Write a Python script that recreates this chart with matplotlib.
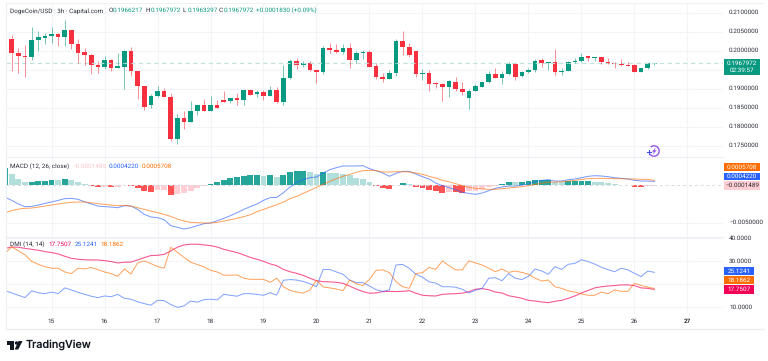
import numpy as np
import matplotlib
matplotlib.use('Agg')
import matplotlib.pyplot as plt
from matplotlib.patches import Rectangle, Circle, Polygon, Arc

plt.rcParams['font.family'] = ['Roboto', 'DejaVu Sans']
plt.rcParams['text.hinting'] = 'no_hinting'

W, H = 768, 361

# candles, price in units of 0.0001
open_p = [2085,2031,1995,1987,1984,2029,2032,2039,2045,2036,
          2054,2018,1996,1988,1961,1958,1975,1955,1958,1999,
          1947,1908,1856,1881,1893,1878,1768,1823,1811,1842,
          1857,1842,1857,1870,1867,1875,1871,1897,1885,1891,
          1881,1897,1866,1928,1973,1963,1968,1950,1945,2008,
          2002,1996,2008,1975,1995,1996,1960,1932,1926,1940,
          2025,2010,1998,1939,1940,1915,1912,1905,1918,1899,
          1876,1895,1905,1917,1939,1929,1939,1966,1934,1945,
          1950,1975,1968,1969,1944,1947,1970,1973,1985,1982,
          1983,1971,1967,1965,1962,1961,1944,1954,1966]
high_p = [2085,2041,2008,2015,2061,2052,2047,2061,2047,2081,
          2054,2030,2006,1991,1973,1986,1977,1995,2001,2009,
          1947,1908,1886,1907,1902,1888,1833,1840,1868,1857,
          1874,1882,1870,1895,1875,1888,1897,1898,1897,1897,
          1907,1904,1962,1977,1981,1972,1972,1952,2011,2020,
          2018,2018,2019,2000,2002,2002,1968,1940,1950,2030,
          2052,2020,1999,1951,1949,1918,1914,1923,1930,1918,
          1900,1912,1918,1946,1955,1946,1970,1968,1946,1954,
          1979,1981,1970,2004,1955,1973,1981,1994,1987,1983,
          1983,1981,1970,1977,1970,1965,1954,1968,1968]
low_p = [2030,1947,1942,1932,1975,2000,2018,2021,2012,2012,
         2004,1967,1961,1939,1942,1951,1947,1955,1900,1934,
         1872,1844,1850,1877,1877,1761,1754,1793,1811,1831,
         1842,1841,1848,1866,1863,1856,1856,1884,1877,1870,
         1881,1861,1858,1925,1953,1958,1947,1914,1939,1995,
         1993,1991,1955,1968,1979,1958,1925,1918,1925,1934,
         1988,1983,1931,1923,1894,1903,1868,1879,1893,1883,
         1847,1893,1904,1915,1929,1912,1937,1922,1932,1941,
         1944,1957,1949,1936,1937,1946,1968,1971,1974,1973,
         1964,1965,1955,1960,1959,1944,1944,1952,1963]
close_p = [2030,1995,1987,1984,2029,2035,2039,2045,2036,2054,
           2018,1995,1988,1962,1958,1975,1955,1959,1999,1947,
           1908,1851,1881,1893,1877,1768,1823,1811,1842,1857,
           1842,1857,1848,1866,1875,1871,1897,1884,1892,1882,
           1897,1866,1928,1973,1963,1968,1950,1945,2008,2001,
           1996,2008,1975,1994,1996,1958,1932,1926,1941,2026,
           2009,1989,1938,1940,1913,1911,1905,1920,1899,1892,
           1894,1907,1918,1939,1929,1939,1966,1930,1945,1949,
           1973,1968,1970,1944,1947,1971,1973,1984,1981,1983,
           1971,1965,1964,1961,1960,1944,1954,1967,1968]
last_price = 0.1967972

# MACD pane, units of 0.0001
macd_hist = [22.4,13.6,7.5,3.1,3.5,4.8,5.3,6.1,5.7,7.5,
             6.1,3.1,0.9,-1.8,-3.5,-2.6,-3.6,-3.1,-0.9,-1.3,
             -3.9,-8.3,-9.2,-7.5,-7.0,-13.6,-11.8,-11.0,-8.3,-4.8,
             -1.8,0.9,3.5,5.7,8.3,9.6,11.8,12.3,12.7,11.8,
             12.3,10.1,12.7,16.2,17.5,18.0,16.2,14.0,16.2,15.4,
             14.9,14.5,12.7,9.2,7.5,3.5,-1.3,-3.9,-5.3,-0.4,
             1.8,1.3,-2.6,-4.4,-7.5,-8.3,-10.5,-9.2,-9.6,-10.5,
             -8.3,-7.9,-5.7,-3.5,-1.8,1.3,3.9,3.1,3.9,4.4,
             5.7,5.9,6.1,3.9,3.1,4.4,4.5,4.8,5.0,3.9,
             3.1,2.2,1.3,-0.4,-0.9,-2.6,-2.7,-1.8,-1.489]
macd_line = [-16.7,-20.6,-25.4,-28.9,-28.5,-26.8,-24.6,-22.8,-20.6,-18.4,
             -18.0,-19.3,-22.4,-25.4,-28.1,-28.9,-29.4,-30.3,-27.6,-28.1,
             -32.5,-39.0,-42.5,-43.4,-46.1,-53.9,-56.1,-58.3,-56.6,-53.9,
             -51.3,-50.4,-47.4,-44.3,-40.8,-36.8,-32.5,-28.9,-25.4,-20.6,
             -17.1,-16.7,-10.5,-3.1,3.1,6.6,9.2,10.1,15.4,19.7,
             22.4,24.6,24.6,24.6,25.0,21.1,18.4,15.4,11.0,14.9,
             17.5,17.5,14.0,10.5,7.5,2.2,-1.3,-3.9,-6.6,-10.1,
             -11.4,-12.7,-11.0,-7.9,-4.8,-3.1,-1.8,-1.8,-0.4,1.3,
             3.9,5.7,6.6,4.8,4.8,6.6,7.5,9.2,11.0,11.8,
             11.4,10.5,9.2,8.3,7.5,5.7,4.8,4.8,4.22]
signal_line = [-36.8,-34.2,-32.0,-31.1,-30.7,-29.4,-28.1,-26.8,-25.4,-24.1,
               -23.2,-22.8,-22.8,-23.7,-25.0,-25.9,-26.8,-27.6,-27.2,-28.1,
               -30.3,-32.5,-34.6,-36.8,-39.0,-41.7,-45.2,-47.8,-49.6,-50.0,
               -50.4,-50.4,-49.6,-47.8,-46.1,-44.3,-42.1,-39.5,-35.5,-32.5,
               -29.4,-26.3,-22.8,-18.4,-15.4,-11.4,-7.5,-3.5,0.4,4.4,
               7.9,11.0,13.6,16.2,18.4,18.9,18.4,16.7,16.7,17.1,
               17.1,16.7,15.4,13.6,11.0,8.8,5.7,3.9,1.3,-1.3,
               -3.5,-4.8,-5.7,-6.1,-6.1,-5.3,-4.4,-3.5,-2.6,-1.3,
               0.4,1.8,3.1,3.5,3.9,4.8,5.7,7.0,7.9,8.3,
               8.3,8.3,7.9,7.9,7.5,7.5,7.0,7.0,5.708]

# DMI pane
adx = [35.5,36.1,36.0,35.5,35.1,34.7,34.1,33.7,33.1,32.1,
       31.2,30.8,30.6,30.5,30.5,30.2,29.8,29.2,29.5,29.6,
       30.5,31.5,32.4,32.5,32.9,34.4,36.0,37.0,37.3,37.3,
       37.0,36.7,36.1,35.1,34.4,33.7,32.7,31.6,30.8,29.9,
       28.8,28.0,26.4,25.4,24.7,23.8,22.6,21.5,21.1,21.0,
       20.8,20.4,19.2,17.9,16.8,16.1,16.2,16.8,16.9,16.8,
       16.9,17.2,16.1,15.2,15.0,14.9,15.6,15.8,15.9,16.1,
       16.8,17.8,18.1,17.6,16.6,16.2,15.0,14.5,13.9,13.0,
       12.7,12.3,12.0,12.6,13.0,13.9,14.9,16.2,17.3,18.4,
       18.9,19.2,19.4,19.7,19.7,19.4,18.4,18.2,17.7507]
plus_di = [17.2,16.2,15.2,14.2,17.1,16.3,15.9,16.6,15.9,18.4,
           17.5,16.5,15.6,14.8,14.2,14.9,14.6,15.6,13.9,13.5,
           12.4,11.6,10.9,13.0,12.9,11.2,10.0,10.6,12.7,12.2,
           13.3,13.5,13.2,15.6,15.2,14.8,15.9,15.9,15.6,15.2,
           16.3,15.3,21.7,22.0,21.8,21.2,20.2,18.9,26.4,26.4,
           25.3,24.3,21.8,20.7,20.7,19.2,17.6,16.9,17.5,28.3,
           28.6,26.9,24.3,23.0,21.0,20.5,18.9,18.9,18.7,17.8,
           16.2,17.4,18.2,22.6,22.8,21.5,24.6,22.6,22.0,23.4,
           26.6,25.7,24.3,27.6,26.4,28.6,29.0,30.6,29.8,28.7,
           27.3,26.3,25.4,26.9,26.2,24.7,23.3,25.7,25.1241]
minus_di = [33.4,36.1,34.5,32.7,29.9,28.6,27.6,26.9,26.9,25.3,
            24.6,26.9,26.6,27.2,26.3,25.3,24.6,23.4,26.6,24.4,
            29.2,30.1,28.9,27.7,26.9,36.0,33.8,31.6,29.5,28.5,
            27.5,26.0,25.3,23.9,23.9,24.0,22.6,22.1,22.1,22.1,
            20.8,22.6,18.9,17.3,16.6,16.1,17.5,21.7,18.8,18.4,
            17.9,17.2,21.8,20.2,19.4,22.1,26.0,26.2,25.0,21.1,
            18.9,18.2,24.6,25.0,27.3,26.4,30.1,28.0,26.2,26.2,
            30.1,29.2,28.3,26.9,25.4,26.6,25.1,25.7,25.1,24.3,
            22.6,21.4,21.8,18.9,18.2,17.1,16.6,15.8,15.2,15.2,
            16.6,15.9,17.5,16.9,16.9,20.4,19.5,18.7,18.1862]

day_ticks = list(range(15, 28))
price_ticks = [0.175, 0.18, 0.185, 0.19, 0.195, 0.2, 0.205, 0.21]
dmi_ticks = [10, 20, 30, 40]

GREEN = '#089981'
RED = '#f7303f'
BLUE = '#2962ff'
ORANGE = '#ff6d00'
PINK = '#f50057'
GRID = '#f3f4f8'
TEXT = '#2a2e39'
FS = 4.55

# candle index 7 is the start of the 15th, 8 candles a day
days = 15 + (np.arange(len(close_p)) - 7) / 8


fig = plt.figure(figsize=(W / 100, H / 100), dpi=100)


def pane(top, bottom, ylim):
    ax = fig.add_axes([5.5 / W, 1 - bottom / H, (723 - 5.5) / W, (bottom - top) / H])
    ax.set_xlim(14.132, 27.67)
    ax.set_ylim(*ylim)
    ax.set_xticks(day_ticks)
    ax.set_xticklabels([])
    ax.tick_params(length=0)
    ax.set_yticklabels([])
    ax.grid(True, color=GRID, lw=0.8)
    ax.set_axisbelow(True)
    for s in ax.spines.values():
        s.set_visible(False)
    ax.patch.set_alpha(0)
    return ax


# price pane
ax1 = pane(3, 157, (0.17202, 0.21254))
ax1.set_yticks(price_ticks)
ax1.set_yticklabels([])
o = np.array(open_p) / 1e4
h = np.array(high_p) / 1e4
l = np.array(low_p) / 1e4
c = np.array(close_p) / 1e4
colors = [GREEN if c[i] >= o[i] else RED for i in range(len(c))]
ax1.axhline(last_price, color='#bfe3da', lw=0.8, ls=(0, (4, 3)))
ax1.vlines(days, l, h, colors=colors, lw=0.7, alpha=0.55)
ax1.bar(days, np.maximum(np.abs(c - o), 0.00008), bottom=np.minimum(o, c), width=0.088, color=colors, lw=0)

# macd pane
ax2 = pane(157, 236.7, (-0.00684, 0.00364))
ax2.set_yticks([-0.005])
hist = np.array(macd_hist) * 1e-4
bar_colors = []
for i, v in enumerate(hist):
    rising = i == 0 or v >= hist[i - 1]
    if v >= 0:
        bar_colors.append('#26a69a' if rising else '#b2dfdb')
    else:
        bar_colors.append('#ffcdd2' if rising else '#ff5252')
ax2.axhline(0, color='#d8dae0', lw=0.7, ls=(0, (3, 3)))
ax2.bar(days, hist, width=0.112, color=bar_colors, lw=0)
ax2.plot(days, np.array(macd_line) * 1e-4, color=BLUE, lw=0.7, alpha=0.65)
ax2.plot(days, np.array(signal_line) * 1e-4, color=ORANGE, lw=0.7, alpha=0.65)

# dmi pane
ax3 = pane(237, 313, (7.53, 40.43))
ax3.set_yticks(dmi_ticks)
ax3.plot(days, adx, color=PINK, lw=0.8, alpha=0.65)
ax3.plot(days, plus_di, color=BLUE, lw=0.7, alpha=0.6)
ax3.plot(days, minus_di, color=ORANGE, lw=0.7, alpha=0.65)

# overlay in pixel coords for labels, frame and logo
ov = fig.add_axes([0, 0, 1, 1], zorder=10)
ov.set_xlim(0, W)
ov.set_ylim(H, 0)
ov.axis('off')


def txt(x, y, s, color=TEXT, size=FS, ha='left', **kw):
    ov.text(x, y, s, color=color, fontsize=size, ha=ha, va='center', **kw)


def box(x0, y0, x1, y1, color):
    ov.add_patch(Rectangle((x0, y0), x1 - x0, y1 - y0, color=color, lw=0))


# frame
ov.plot([5.5, 5.5], [3, 329], color='#eceef3', lw=0.8)
ov.plot([5.5, 764], [2.7, 2.7], color='#f0f1f5', lw=0.8)
ov.plot([5.5, 723], [157, 157], color='#eceef3', lw=0.8)
ov.plot([5.5, 723], [236.7, 236.7], color='#eceef3', lw=0.8)
ov.plot([5.5, 764], [329, 329], color='#eceef3', lw=1.0)

# header
txt(10, 10.7, 'DogeCoin/USD · 3h · Capital.com')
for x, k, v in [(108.3, 'O', '0.1966217'), (145.7, 'H', '0.1967972'),
                (182.7, 'L', '0.1963297'), (219, 'C', '0.1967972')]:
    txt(x, 10.7, k)
    txt(x + 4.6, 10.7, v, color=GREEN)
txt(256, 10.7, '+0.0001830 (+0.09%)', color=GREEN)

# indicator legends
txt(10, 166.7, 'MACD (12, 26, close)')
txt(72.7, 166.7, '\u22120.0001489', color='#ffc4cb')
txt(109, 166.7, '0.0004220', color=BLUE)
txt(142, 166.7, '0.0005708', color=ORANGE)
txt(10, 244.7, 'DMI (14, 14)')
txt(48.7, 244.7, '17.7507', color=PINK)
txt(74.3, 244.7, '25.1241', color=BLUE)
txt(100.7, 244.7, '18.1862', color=ORANGE)

# right scale
for v in [0.21, 0.205, 0.2, 0.19, 0.185, 0.18, 0.175]:
    y = ax1.transData.transform((15, v))[1]
    txt(728.3, H - y, f'{v:.7f}')
box(724, 59, 760, 75.3, GREEN)
txt(742, 63.3, '0.1967972', color='white', ha='center')
txt(742, 70.7, '02:39:57', color='white', ha='center')

box(724, 163.3, 760, 171, ORANGE)
txt(742, 167.2, '0.0005708', color='white', ha='center')
box(724, 172.7, 760, 180.3, BLUE)
txt(742, 176.5, '0.0004220', color='white', ha='center')
box(724, 181, 760, 189.7, '#ffcdd2')
txt(742, 185.4, '\u22120.0001489', ha='center')
txt(729, 222.7, '\u22120.0050000')

# the 20 label sits behind the value boxes in the original
for v in [10, 30, 40]:
    y = ax3.transData.transform((15, v))[1]
    txt(729, H - y, f'{v:.4f}')
box(724, 267, 754, 275.3, BLUE)
txt(739, 271.2, '25.1241', color='white', ha='center')
box(724, 276, 754, 284.3, ORANGE)
txt(739, 280.2, '18.1862', color='white', ha='center')
box(724, 285, 754, 293.7, PINK)
txt(739, 289.4, '17.7507', color='white', ha='center')

# date axis
for d in day_ticks:
    x = ax3.transData.transform((d, 20))[0]
    txt(x, 321.3, str(d), ha='center', fontweight='bold' if d == 27 else 'normal')

# replay icon
ov.add_patch(Arc((654, 151), 10.4, 10.4, theta1=-130, theta2=140, ec='#8e44e8', lw=0.9))
ov.add_patch(Polygon([(656, 147.3), (652, 151.6), (654, 151.6), (652.6, 154.7), (656.6, 150.4), (654.4, 150.4)],
                     color='#8e44e8', lw=0))
ov.plot([646.8, 650.6], [151.8, 151.8], color='#3f51e8', lw=0.8)
ov.plot([648.7, 648.7], [149.9, 153.7], color='#3f51e8', lw=0.8)

# TradingView logo
ov.add_patch(Polygon([(6.7, 341), (14, 341), (14, 349.5), (10.3, 349.5), (10.3, 344.6), (6.7, 344.6)], color='#131722', lw=0))
ov.add_patch(Circle((16.5, 343), 1.7, color='#131722', lw=0))
ov.add_patch(Polygon([(18.5, 341), (22.5, 341), (18.3, 349.5), (14.6, 349.5)], color='#131722', lw=0))
txt(26, 345, 'TradingView', color='#131722', size=7.8, family=['Inter', 'DejaVu Sans'], fontweight='medium')

fig.savefig('out.png', dpi=100)
